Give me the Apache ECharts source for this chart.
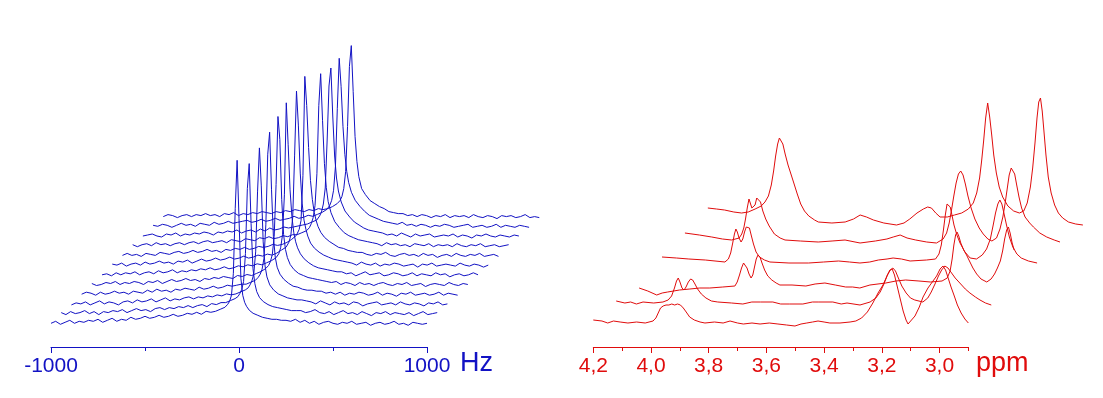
<!DOCTYPE html>
<html>
<head>
<meta charset="utf-8">
<script src="https://cdn.jsdelivr.net/npm/echarts@6/dist/echarts.min.js"></script>
<style>
  html, body { margin: 0; padding: 0; background: #fff; }
  #chart { width: 1103px; height: 398px; }
</style>
</head>
<body>
<div id="chart"></div>
<script>
// left panel: 12 spectra, x in Hz (shared grid), intensity in plot units
const hzGrid = [
  -1000, -975, -950, -925, -900, -875, -850, -825, -800, -775, -750, -725, -700, -675, -650, -625, -600, -575,
  -550, -525, -500, -475, -450, -425, -400, -375, -350, -325, -300, -275, -250, -225, -200, -175, -150,
  -125, -100, -75, -60, -50, -40, -30, -20, -10, 0, 10, 20, 30, 40, 55, 75, 100, 125, 150, 175, 200, 225, 250,
  275, 300, 325, 350, 375, 400, 425, 450, 475, 500, 525, 550, 575, 600, 625, 650, 675, 700, 725, 750,
  775, 800, 825, 850, 875, 900, 925, 950, 975, 1000
]
const blue0 = [0, 2, -1, 1, 3, 0, 2, 1, 3, 2, 4, 1, 3, 5, 2, 4, 3, 6, 4, 5, 7, 5, 6, 8, 6, 7, 9, 7, 8, 10, 9, 11, 9, 12, 11,
  12, 14, 16, 19, 22, 28, 50, 115, 163, 105, 45, 28, 21, 17, 13, 10, 8, 6, 5, 4, 4, 3, 3,
  2, 4, 1, 3, 0, 2, -1, 1, 2, 0, -1, 1, 0, 2, -1, 0, 1, -2, 0, 1, -1, 0, 2, -1, 0, -2, 1, 0, -1, 0]
const blue1 = [1, -1, 2, 0, 1, 3, 0, 2, -1, 2, 1, 3, 2, 4, 1, 3, 5, 3, 4, 2, 5, 6, 4, 6, 5, 7, 6, 8, 6, 8, 9, 7, 10, 9, 11,
  11, 13, 15, 17, 20, 24, 32, 60, 125, 150, 90, 45, 30, 22, 16, 12, 9, 7, 6, 5, 4, 3, 3,
  3, 1, 2, 4, 1, 0, 2, -1, 1, 3, 0, 1, -1, 2, 0, -2, 1, 0, 2, -1, 1, 0, -1, 1, -2, 0, 2, -1, 0, 1]
const blue2 = [-1, 1, 0, 2, -1, 1, 3, 0, 2, 1, -1, 2, 3, 1, 4, 2, 3, 5, 2, 4, 6, 3, 5, 4, 6, 7, 5, 7, 6, 8, 7, 9, 8, 10, 9,
  10, 12, 14, 16, 19, 23, 30, 52, 112, 156, 118, 62, 38, 27, 19, 14, 10, 8, 6, 5, 4, 4, 3,
  2, 0, 3, 1, -1, 2, 0, 1, -1, 2, 1, -2, 0, 1, 2, -1, 0, 1, -1, 2, 0, -1, 1, 0, -2, 1, 0, 2, -1, 0]
const blue3 = [0, 2, 1, -1, 2, 0, 1, 3, 1, 2, 0, 3, 2, 1, 4, 2, 5, 3, 4, 2, 5, 4, 6, 5, 4, 7, 5, 6, 8, 6, 7, 9, 8, 9, 10,
  10, 12, 14, 17, 20, 25, 36, 70, 140, 162, 105, 58, 37, 27, 20, 15, 11, 8, 7, 5, 4, 4, 3,
  3, 1, 2, 0, 2, -1, 1, 0, 2, 1, -1, 0, 2, -1, 1, 0, -2, 1, 0, 2, -1, 0, 1, -1, 0, 2, -1, 1, 0, -1]
const blue4 = [1, -1, 0, 2, 1, 3, 0, 2, 1, 3, 2, 0, 3, 2, 4, 1, 3, 5, 3, 4, 6, 4, 5, 3, 6, 5, 7, 6, 8, 7, 6, 9, 8, 10, 9,
  11, 13, 16, 19, 23, 30, 48, 100, 168, 145, 85, 50, 35, 27, 20, 15, 11, 9, 7, 6, 5, 4, 3,
  2, 3, 0, 2, 1, -1, 2, 0, 1, -1, 1, 2, 0, -1, 1, 0, 2, -1, 0, 1, -2, 0, 1, 0, -1, 2, 0, -1, 1, 0]
const blue5 = [0, 1, -1, 2, 0, 2, 1, 3, 0, 2, 3, 1, 4, 2, 3, 5, 2, 4, 3, 5, 4, 6, 5, 7, 5, 6, 8, 6, 7, 9, 8, 10, 9, 11, 10,
  12, 14, 17, 21, 27, 40, 80, 172, 130, 85, 58, 42, 33, 27, 21, 16, 12, 9, 7, 6, 5, 4, 3,
  3, 1, 2, -1, 1, 3, 0, 1, 2, -1, 0, 2, 1, -1, 0, 2, -1, 1, 0, -1, 2, 0, 1, -2, 0, 1, -1, 0, 2, 0]
const blue6 = [1, 0, 2, -1, 1, 2, 0, 3, 1, 2, 4, 2, 3, 1, 4, 3, 5, 2, 4, 6, 4, 5, 7, 5, 6, 8, 6, 7, 9, 7, 8, 10, 9, 11, 10,
  12, 15, 18, 23, 30, 48, 110, 174, 140, 92, 62, 45, 36, 29, 22, 17, 13, 10, 8, 6, 5, 4, 3,
  2, 0, 3, 1, 0, 2, -1, 1, 0, 2, 1, -1, 0, 1, -2, 1, 0, 2, -1, 0, 1, 0, -1, 2, 0, -1, 1, 0, -2, 0]
const blue7 = [0, 2, 0, 1, -1, 2, 1, 0, 3, 2, 1, 3, 4, 2, 3, 5, 3, 4, 6, 4, 5, 3, 6, 5, 7, 6, 8, 6, 7, 9, 8, 9, 11, 10, 11,
  13, 16, 20, 26, 35, 80, 179, 150, 108, 75, 56, 43, 35, 29, 23, 18, 14, 11, 8, 7, 5, 4, 3,
  3, 1, 0, 2, 1, 3, 0, -1, 1, 2, 0, 1, -1, 2, 0, 1, -2, 0, 1, -1, 2, 0, -1, 1, 0, 2, -1, 0, 1, -1]
const blue8 = [1, -1, 1, 2, 0, 3, 1, 2, 0, 2, 3, 1, 3, 4, 2, 4, 5, 3, 4, 5, 3, 6, 5, 4, 7, 6, 5, 8, 7, 9, 7, 8, 10, 9, 11,
  11, 13, 15, 18, 22, 28, 40, 72, 140, 172, 125, 82, 58, 44, 33, 24, 18, 13, 10, 8, 6, 5, 4,
  3, 2, 0, 3, 1, 2, 0, 1, -1, 2, 1, 0, 2, -1, 1, 0, 1, -1, 2, 0, -1, 1, 0, 2, -1, 0, 1, -1, 0, 1]
const blue9 = [0, 1, 2, 0, -1, 2, 1, 3, 0, 2, 1, 3, 2, 4, 3, 1, 4, 3, 5, 4, 6, 3, 5, 6, 4, 7, 5, 8, 6, 7, 9, 8, 9, 10, 11,
  12, 14, 16, 20, 24, 32, 48, 95, 150, 168, 120, 80, 58, 45, 34, 25, 19, 14, 11, 8, 6, 5, 4,
  3, 1, 2, 0, 3, 1, -1, 2, 0, 1, 2, -1, 0, 1, 0, 2, -1, 1, 0, -2, 1, 0, 2, 0, -1, 1, 0, -1, 1, 0]
const blue10 = [1, 0, 2, 1, -1, 1, 3, 1, 2, 0, 3, 2, 1, 4, 2, 3, 5, 3, 4, 5, 6, 4, 5, 7, 5, 6, 8, 6, 7, 8, 10, 8, 9, 11, 10,
  12, 14, 17, 21, 26, 36, 60, 118, 168, 140, 100, 72, 55, 44, 34, 26, 20, 15, 11, 9, 7, 5, 4,
  3, 2, 4, 1, 2, 0, 2, 1, -1, 1, 0, 2, 1, -1, 0, 1, 2, -1, 0, 1, -1, 0, 2, -1, 1, 0, -1, 1, 0, -1]
const blue11 = [0, 2, 1, -1, 1, 2, 0, 2, 1, 3, 1, 2, 0, 3, 2, 4, 1, 3, 2, 4, 3, 5, 4, 3, 5, 4, 6, 5, 7, 6, 5, 7, 6, 8, 7,
  8, 10, 13, 16, 20, 28, 45, 90, 150, 171, 125, 80, 55, 40, 28, 22, 16, 13, 10, 8, 5, 4, 3,
  3, 1, 2, 0, 2, 1, -1, 1, 0, 2, -1, 1, 0, 1, -1, 2, 0, -1, 1, 0, -2, 1, 0, 1, -1, 0, 2, -1, 0, -1]
const blueShiftHz = 54.3 // each later spectrum moved right
const blueShiftY = 9.7   // and up

// right panel: 6 spectra, [ppm, intensity]
const red0 = [[4.200, 3], [4.170, 2], [4.150, 0], [4.130, 2], [4.107, 1], [4.080, 0], [4.050, 1], [4.020, 0], [3.993, 2],
  [3.983, 5], [3.975, 10], [3.967, 15], [3.958, 17], [3.948, 18], [3.938, 18], [3.928, 19], [3.918, 18], [3.908, 19],
  [3.898, 18], [3.888, 15], [3.878, 11], [3.866, 6], [3.850, 3], [3.830, 1], [3.813, 0], [3.780, 1], [3.750, 0],
  [3.726, 2], [3.700, 0], [3.680, -1], [3.650, 0], [3.622, -1], [3.590, 0], [3.560, -1], [3.530, -2], [3.501, -3],
  [3.480, -1], [3.460, 0], [3.440, 1], [3.421, 2], [3.400, 1], [3.380, 0], [3.345, 0], [3.310, 1], [3.290, 2],
  [3.270, 5], [3.250, 11], [3.231, 20], [3.213, 30], [3.196, 38], [3.182, 47], [3.172, 53], [3.164, 54], [3.156, 48],
  [3.146, 36], [3.136, 24], [3.126, 12], [3.116, 3], [3.109, -1], [3.100, 2], [3.085, 7], [3.070, 16], [3.057, 26],
  [3.040, 35], [3.025, 41], [3.010, 47], [2.998, 54], [2.988, 57], [2.979, 53], [2.970, 45], [2.960, 36], [2.950, 28],
  [2.938, 18], [2.925, 10], [2.912, 4], [2.900, 0]]
const red1 = [[4.200, 2], [4.170, 0], [4.150, 1], [4.130, -1], [4.107, 1], [4.070, 0], [4.038, 1], [4.020, 3], [4.008, 7],
  [3.998, 15], [3.991, 22], [3.985, 25], [3.979, 21], [3.972, 15], [3.965, 13], [3.958, 16], [3.950, 21], [3.942, 24],
  [3.935, 23], [3.927, 19], [3.918, 14], [3.905, 9], [3.889, 5], [3.870, 2], [3.848, 1], [3.800, 0], [3.761, -1],
  [3.730, 1], [3.700, 1], [3.657, 1], [3.630, -1], [3.600, -1], [3.553, -1], [3.520, 1], [3.500, 1], [3.449, 1],
  [3.420, -1], [3.400, 0], [3.355, -2], [3.320, 1], [3.300, 5], [3.285, 11], [3.272, 19], [3.260, 28], [3.250, 33],
  [3.241, 35], [3.232, 32], [3.222, 25], [3.210, 17], [3.195, 10], [3.180, 5], [3.165, 3], [3.137, 1], [3.120, 5],
  [3.108, 11], [3.095, 19], [3.083, 27], [3.072, 33], [3.061, 37], [3.050, 35], [3.040, 31], [3.025, 25], [3.009, 20],
  [2.990, 14], [2.974, 10], [2.955, 6], [2.939, 3], [2.920, 0], [2.900, -2]]
const red2 = [[4.200, -5], [4.170, -8], [4.139, -12], [4.120, -10], [4.101, -9], [4.060, -7], [4.024, -6], [3.990, -5],
  [3.955, -5], [3.910, -4], [3.868, -3], [3.860, 1], [3.852, 8], [3.845, 15], [3.838, 20], [3.832, 20], [3.826, 15],
  [3.819, 9], [3.812, 5], [3.806, 8], [3.800, 16], [3.794, 24], [3.788, 28], [3.781, 26], [3.774, 20], [3.765, 13],
  [3.754, 7], [3.740, 3], [3.725, 0], [3.712, -2], [3.670, -2], [3.622, -3], [3.590, -1], [3.556, 0], [3.520, -2],
  [3.484, -4], [3.460, -4], [3.435, -5], [3.400, -2], [3.345, 0], [3.310, 2], [3.276, 3], [3.230, 2], [3.190, 1],
  [3.150, 2], [3.132, 5], [3.122, 12], [3.115, 24], [3.109, 38], [3.103, 48], [3.098, 51], [3.092, 47], [3.085, 40],
  [3.075, 33], [3.065, 28], [3.055, 22], [3.043, 15], [3.030, 9], [3.015, 4], [2.995, 1], [2.980, 4], [2.968, 9],
  [2.958, 15], [2.948, 22], [2.940, 32], [2.933, 44], [2.926, 53], [2.920, 56], [2.914, 50], [2.907, 40], [2.900, 33]]
const red3 = [[4.200, 6], [4.150, 5], [4.107, 4], [4.050, 3], [3.982, 1], [3.970, 4], [3.962, 10], [3.955, 20], [3.949, 29],
  [3.944, 34], [3.939, 31], [3.933, 25], [3.926, 21], [3.920, 24], [3.914, 31], [3.908, 36], [3.903, 38], [3.897, 35],
  [3.891, 28], [3.883, 19], [3.874, 11], [3.862, 6], [3.845, 3], [3.826, 1], [3.760, 0], [3.692, 0], [3.640, 1],
  [3.588, 2], [3.550, 1], [3.514, 0], [3.480, 1], [3.450, 3], [3.420, 4], [3.399, 5], [3.370, 4], [3.340, 2],
  [3.283, 3], [3.252, 4], [3.240, 9], [3.232, 18], [3.225, 32], [3.218, 48], [3.212, 59], [3.207, 61], [3.201, 56],
  [3.195, 48], [3.188, 38], [3.178, 28], [3.167, 20], [3.150, 11], [3.132, 5], [3.110, 4], [3.090, 8], [3.075, 14],
  [3.062, 24], [3.052, 38], [3.044, 50], [3.036, 59], [3.029, 63], [3.022, 59], [3.015, 50], [3.006, 38], [2.996, 26],
  [2.984, 16], [2.970, 9], [2.955, 5], [2.930, 2], [2.900, 0]]
const red4 = [[4.200, 10], [4.150, 8], [4.107, 6], [4.070, 4], [4.038, 3], [4.012, 5], [4.003, 9], [3.996, 15], [3.990, 24],
  [3.984, 35], [3.978, 44], [3.973, 42], [3.968, 35], [3.963, 33], [3.957, 38], [3.951, 45], [3.945, 47], [3.938, 41],
  [3.930, 32], [3.920, 24], [3.908, 17], [3.890, 9], [3.870, 5], [3.853, 3], [3.800, 2], [3.738, 1], [3.690, 2],
  [3.645, 3], [3.593, 0], [3.540, 2], [3.500, 4], [3.478, 6], [3.454, 8], [3.430, 5], [3.400, 3], [3.362, 1],
  [3.328, 0], [3.305, 4], [3.293, 10], [3.284, 20], [3.276, 33], [3.268, 47], [3.260, 60], [3.252, 69], [3.244, 72],
  [3.236, 68], [3.228, 59], [3.219, 47], [3.208, 35], [3.195, 24], [3.180, 15], [3.166, 9], [3.150, 4], [3.136, 2],
  [3.120, 5], [3.108, 14], [3.098, 26], [3.090, 40], [3.083, 54], [3.076, 68], [3.069, 75], [3.063, 76], [3.057, 69],
  [3.050, 58], [3.042, 46], [3.033, 35], [3.021, 26], [3.005, 20], [2.992, 16], [2.970, 10], [2.946, 6], [2.920, 3],
  [2.900, 1]]
const red5 = [[4.200, 15], [4.170, 14], [4.142, 13], [4.110, 11], [4.083, 10], [4.060, 11], [4.036, 14], [4.015, 17],
  [4.002, 21], [3.990, 27], [3.980, 38], [3.972, 52], [3.965, 67], [3.958, 79], [3.952, 85], [3.946, 85], [3.940, 79],
  [3.932, 69], [3.922, 58], [3.912, 49], [3.902, 40], [3.890, 29], [3.878, 19], [3.865, 12], [3.850, 7], [3.830, 3],
  [3.817, 1], [3.770, 0], [3.724, 1], [3.695, 4], [3.672, 8], [3.650, 6], [3.626, 3], [3.590, 0], [3.546, -2],
  [3.520, 0], [3.500, 4], [3.475, 10], [3.453, 14], [3.438, 16], [3.425, 15], [3.410, 10], [3.395, 6], [3.370, 6],
  [3.345, 8], [3.320, 10], [3.297, 14], [3.280, 20], [3.268, 30], [3.258, 45], [3.251, 62], [3.244, 82], [3.237, 105],
  [3.230, 120], [3.223, 106], [3.216, 88], [3.209, 68], [3.200, 50], [3.190, 36], [3.178, 26], [3.160, 17], [3.140, 12],
  [3.120, 10], [3.105, 12], [3.093, 20], [3.082, 36], [3.074, 55], [3.066, 80], [3.059, 105], [3.053, 121], [3.047, 125],
  [3.041, 112], [3.035, 92], [3.028, 68], [3.020, 46], [3.010, 30], [2.998, 18], [2.985, 10], [2.970, 5], [2.950, 1],
  [2.925, -1], [2.900, -2]]
const redShiftPpm = 0.0794
const redShiftY = 20

const BLUE = '#1212c4'
const RED = '#e00c0c'
const FONT = '"Liberation Sans", Arial, sans-serif'

const blueTraces = [blue0, blue1, blue2, blue3, blue4, blue5, blue6, blue7, blue8, blue9, blue10, blue11]
const redTraces = [red0, red1, red2, red3, red4, red5]

const series = []
// back to front, white fill hides what lies behind
for (let i = blueTraces.length - 1; i >= 0; i--) {
  series.push({
    type: 'line',
    xAxisIndex: 3,
    yAxisIndex: 3,
    symbol: 'none',
    silent: true,
    lineStyle: { color: BLUE, width: 1 },
    areaStyle: { color: '#fff', opacity: 1, origin: 'start' },
    data: hzGrid.map((h, k) => [h + i * blueShiftHz, blueTraces[i][k] + i * blueShiftY])
  })
}
redTraces.forEach((tr, i) => {
  series.push({
    type: 'line',
    xAxisIndex: 4,
    yAxisIndex: 4,
    symbol: 'none',
    silent: true,
    lineStyle: { color: RED, width: 1 },
    data: tr.map(p => [p[0] - i * redShiftPpm, p[1] + i * redShiftY])
  })
})

const hidden = { show: false }
const chart = echarts.init(document.getElementById('chart'))
chart.setOption({
  animation: false,
  backgroundColor: '#fff',
  textStyle: { fontFamily: FONT },
  grid: [
    { left: 51, width: 376, top: 300, height: 47 },   // Hz axis
    { left: 593.3, width: 375, top: 300, height: 47 }, // ppm axis, minor ticks
    { left: 593.3, width: 346.2, top: 300, height: 47 }, // ppm axis, labelled ticks
    { left: 32.2, width: 582.8, top: 23.3, height: 310 }, // blue spectra
    { left: 593.3, width: 490.45, top: 23, height: 310 }  // red spectra
  ],
  xAxis: [
    {
      gridIndex: 0, type: 'value', min: -1000, max: 1000, interval: 1000,
      axisLine: { lineStyle: { color: BLUE, width: 1 } },
      axisTick: { length: 6, lineStyle: { color: BLUE } },
      minorTick: { show: true, splitNumber: 2, length: 4, lineStyle: { color: BLUE } },
      axisLabel: { color: BLUE, fontSize: 21, fontFamily: FONT, margin: 9, formatter: v => String(v) },
      splitLine: hidden, minorSplitLine: hidden
    },
    {
      gridIndex: 1, type: 'value', min: 2.9, max: 4.2, interval: 0.1, inverse: true,
      axisLine: { lineStyle: { color: RED, width: 1 } },
      axisTick: { length: 4, lineStyle: { color: RED } },
      axisLabel: hidden, splitLine: hidden
    },
    {
      gridIndex: 2, type: 'value', min: 3.0, max: 4.2, interval: 0.2, inverse: true,
      axisLine: hidden,
      axisTick: { length: 6, lineStyle: { color: RED } },
      axisLabel: {
        color: RED, fontSize: 21, fontFamily: FONT, margin: 9, showMinLabel: true, showMaxLabel: true,
        formatter: v => v.toFixed(1).replace('.', ',')
      },
      splitLine: hidden
    },
    { gridIndex: 3, type: 'value', min: -1100, max: 2000, show: false },
    { gridIndex: 4, type: 'value', min: 2.5, max: 4.2, inverse: true, show: false }
  ],
  yAxis: [
    { gridIndex: 0, type: 'value', min: 0, max: 1, show: false },
    { gridIndex: 1, type: 'value', min: 0, max: 1, show: false },
    { gridIndex: 2, type: 'value', min: 0, max: 1, show: false },
    { gridIndex: 3, type: 'value', min: -10, max: 300, show: false },
    { gridIndex: 4, type: 'value', min: -10, max: 300, show: false }
  ],
  graphic: [
    { type: 'text', left: 460, top: 350.4, style: { text: 'Hz', fill: BLUE, fontSize: 27, fontFamily: FONT } },
    { type: 'text', left: 976, top: 350.4, style: { text: 'ppm', fill: RED, fontSize: 27, fontFamily: FONT } }
  ],
  series: series
})
</script>
</body>
</html>
